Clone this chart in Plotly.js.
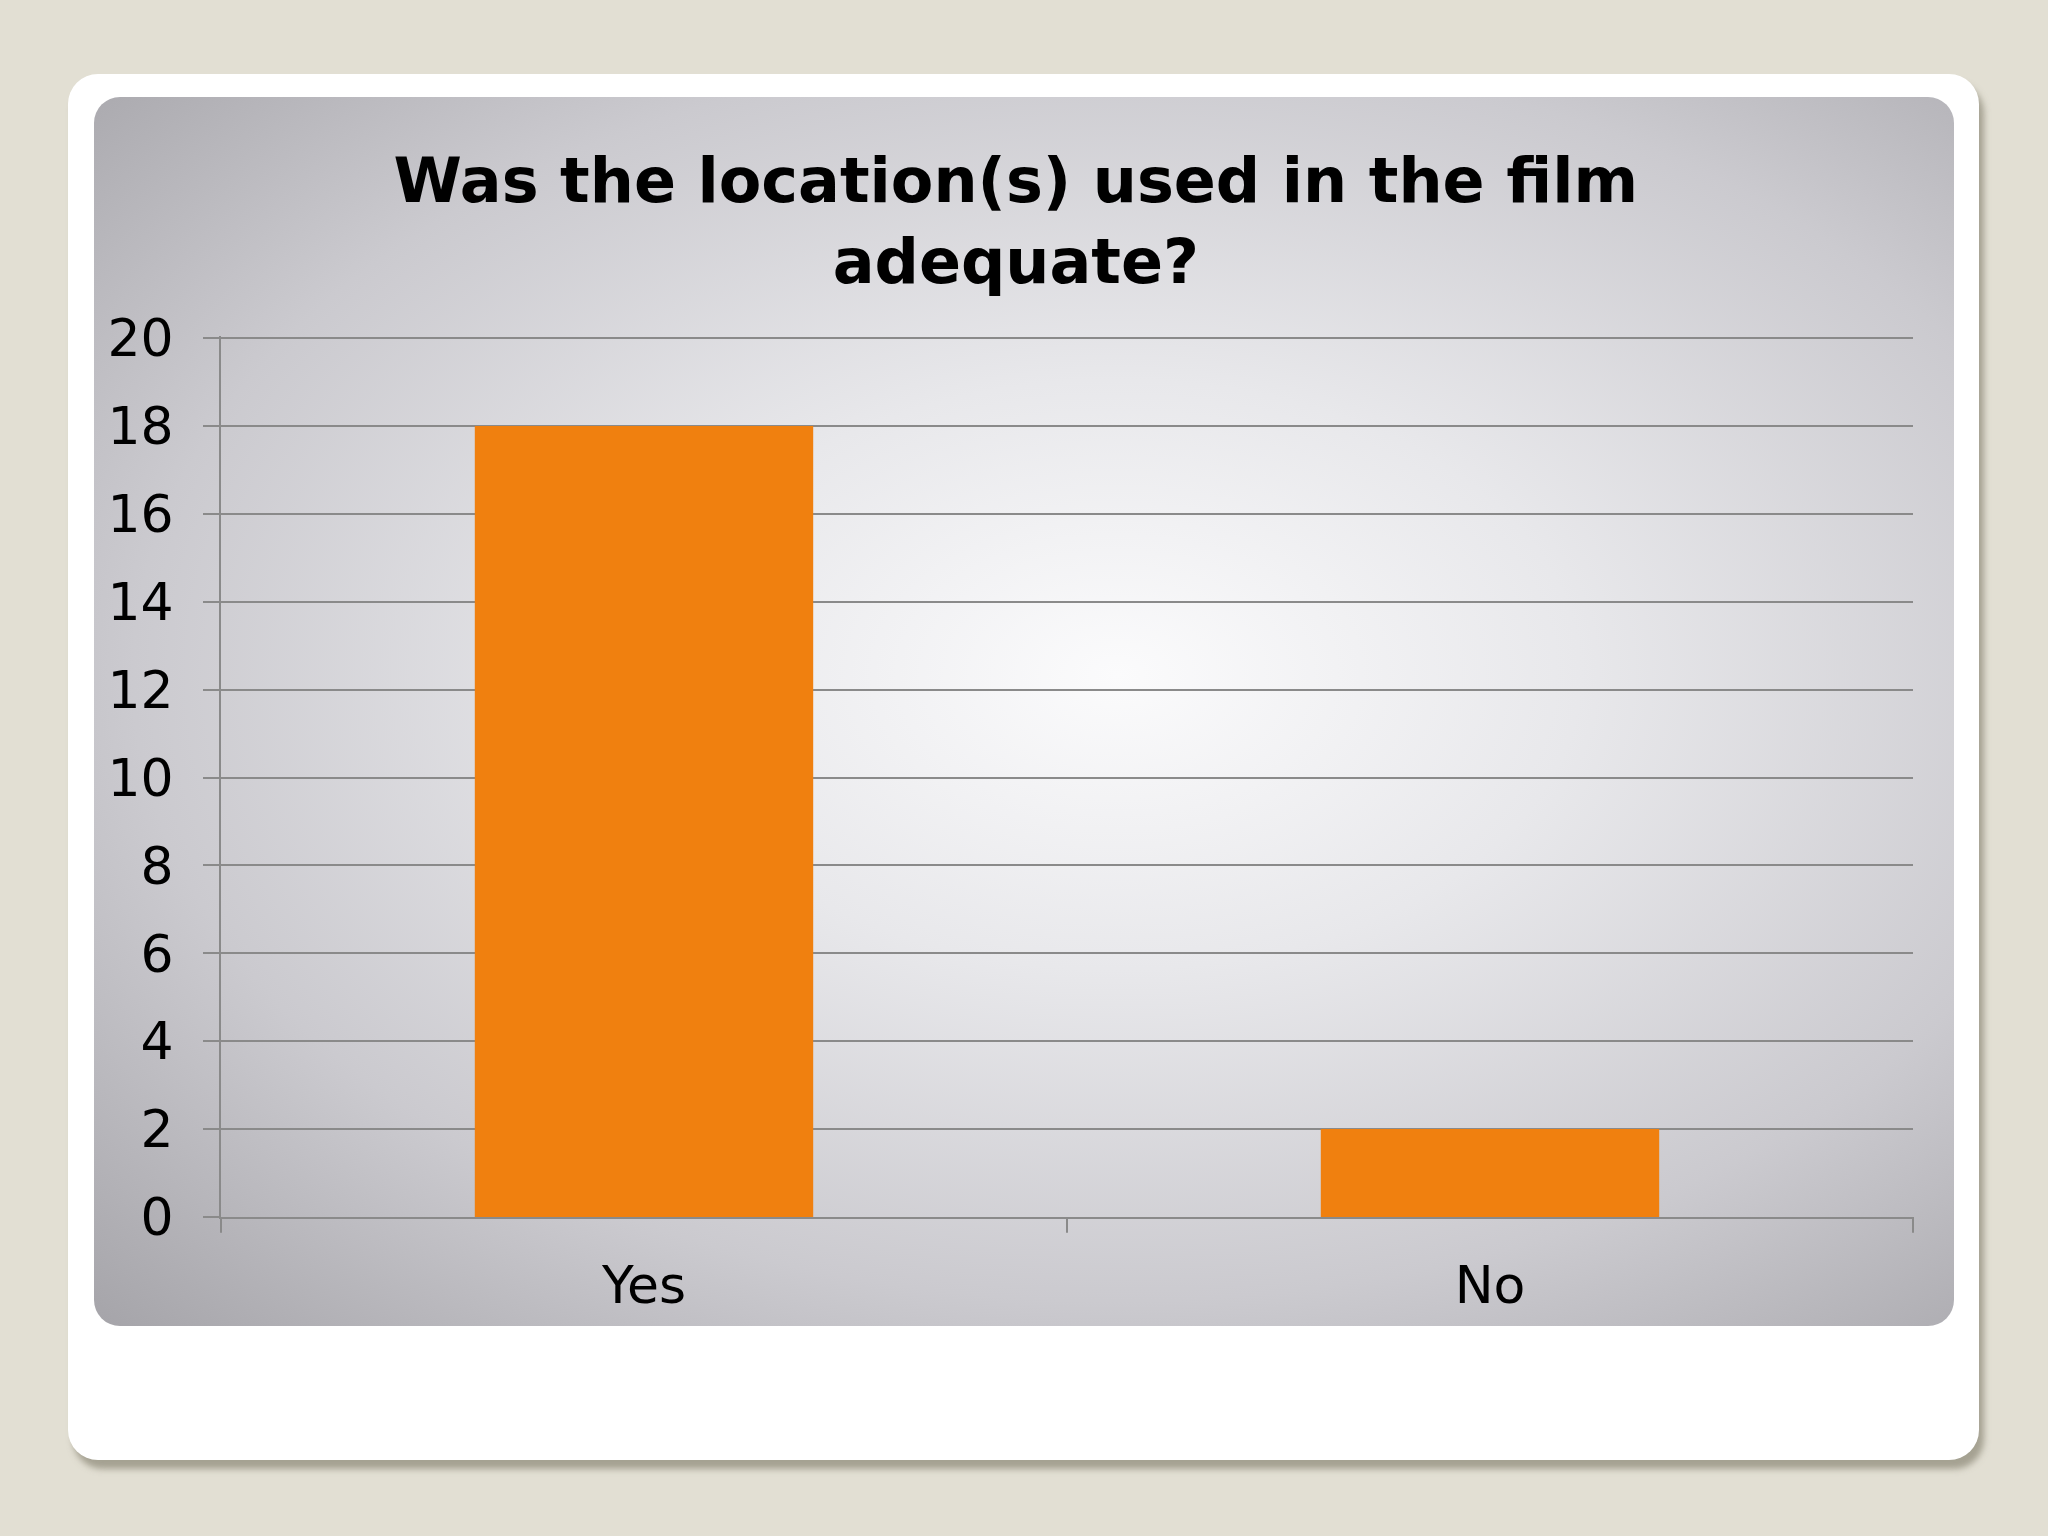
<!DOCTYPE html>
<html>
<head>
<meta charset="utf-8">
<script src="https://cdn.plot.ly/plotly-3.0.1.min.js"></script>
<style>
  html, body { margin: 0; padding: 0; width: 2048px; height: 1536px; overflow: hidden; background: #e2dfd3; }
  #card { position: absolute; left: 68px; top: 74px; width: 1911px; height: 1386px; background: #ffffff;
          border-radius: 30px; box-shadow: 5px 9px 6px rgba(150,146,130,0.8); }
  #panel { position: absolute; left: 94px; top: 97px; width: 1860px; height: 1229px; border-radius: 26px;
           background: radial-gradient(ellipse farthest-corner at 55% 47%, #fbfbfc 0%, #e8e8eb 32%, #cbcacf 68%, #a5a4a9 100%); }
  #chart { position: absolute; left: 0; top: 0; width: 2048px; height: 1536px; }
</style>
</head>
<body>
<div id="card"></div>
<div id="panel"></div>
<div id="chart"></div>
<script>
const categories = ["Yes", "No"];
const responses = [18, 2];
const yTickValues = [0, 2, 4, 6, 8, 10, 12, 14, 16, 18, 20];
const chartTitle = "Was the location(s) used in the film<br>adequate?";

const trace = {
  type: "bar",
  x: categories,
  y: responses,
  marker: { color: "#f0800f", line: { width: 0 } },
  hoverinfo: "x+y"
};

const gridGray = "#8a8a8a";
const labelFont = { family: "DejaVu Sans", size: 52, color: "#000000" };

const layout = {
  width: 2048,
  height: 1536,
  paper_bgcolor: "rgba(0,0,0,0)",
  plot_bgcolor: "rgba(0,0,0,0)",
  margin: { l: 221, r: 135, t: 336, b: 319, pad: 0 },
  showlegend: false,
  bargap: 0.6,
  title: {
    text: chartTitle,
    x: 0.496, xref: "container", xanchor: "center",
    y: 0.8685, yref: "container", yanchor: "bottom",
    font: { family: "DejaVu Sans", size: 62, color: "#000000", weight: "bold" }
  },
  xaxis: {
    type: "category",
    showgrid: false,
    showline: true,
    linecolor: gridGray,
    linewidth: 2,
    ticks: "",
    tickfont: labelFont,
    ticklabelstandoff: 22,
    zeroline: false,
    fixedrange: true
  },
  yaxis: {
    range: [0, 20.05],
    tickvals: yTickValues,
    ticktext: yTickValues.map(String),
    showgrid: true,
    gridcolor: gridGray,
    gridwidth: 2,
    showline: true,
    linecolor: gridGray,
    linewidth: 2,
    ticks: "outside",
    ticklen: 16,
    tickwidth: 2,
    tickcolor: gridGray,
    tickfont: labelFont,
    ticklabelstandoff: 19,
    zeroline: false,
    fixedrange: true
  },
  shapes: [
    { type: "line", xref: "paper", yref: "paper", x0: 0, x1: 0, y0: 0, y1: -0.018, line: { color: gridGray, width: 2 } },
    { type: "line", xref: "paper", yref: "paper", x0: 0.5, x1: 0.5, y0: 0, y1: -0.018, line: { color: gridGray, width: 2 } },
    { type: "line", xref: "paper", yref: "paper", x0: 1, x1: 1, y0: 0, y1: -0.018, line: { color: gridGray, width: 2 } }
  ]
};

Plotly.newPlot("chart", [trace], layout, { displayModeBar: false, staticPlot: true });
</script>
</body>
</html>
